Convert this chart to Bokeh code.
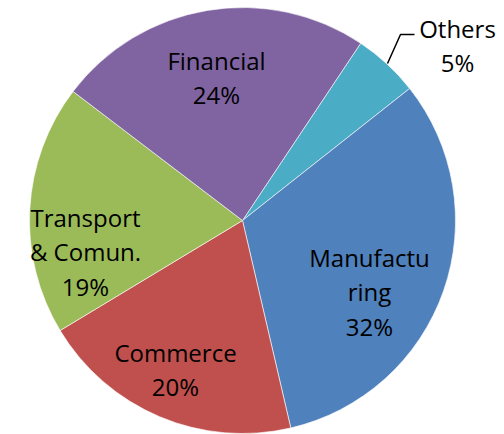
import math
from bokeh.plotting import figure
from bokeh.models import ColumnDataSource, Range1d
from bokeh.embed import file_html
from bokeh.resources import INLINE
from bokeh.core.properties import value

# ---- data ----
categories = ["Others", "Manufacturing", "Commerce", "Transport & Comun.", "Financial"]
shares = [5, 32, 20, 19, 24]
colors = ["#4BACC6", "#4F81BD", "#C0504D", "#9BBB59", "#8064A2"]
name_lines = [["Others"], ["Manufactu", "ring"], ["Commerce"], ["Transport", "& Comun."], ["Financial"]]

# ---- layout (page pixel coordinates) ----
W, H, OFF = 504, 434, 0
CX, CY, R = 242, 220, 213
START_DEG = 56.3  # math angle where first slice starts (clockwise drawing)
label_centers = [(457, 45), (369, 291), (175, 369), (85, 251), (216, 77)]
LINE_SP = 34.5
FONT = "Open Sans"
FONT_SIZE = "24px"

total = sum(shares)
starts, ends = [], []
cum = 0.0
for s in shares:
    a0 = math.radians(START_DEG - cum / total * 360.0)
    cum += s
    a1 = math.radians(START_DEG - cum / total * 360.0)
    starts.append(a0)
    ends.append(a1)

src = ColumnDataSource(dict(cat=categories, share=shares, color=colors,
                            start=starts, end=ends,
                            x=[CX] * len(shares), y=[-CY] * len(shares)))

p = figure(width=W, height=H, output_backend="svg", toolbar_location=None,
           x_range=Range1d(OFF, OFF + W), y_range=Range1d(-(OFF + H), -OFF),
           min_border=0, background_fill_color="white", border_fill_color="white")
p.axis.visible = False
p.grid.visible = False
p.outline_line_color = None

p.wedge(x="x", y="y", radius=R, start_angle="start", end_angle="end",
        direction="clock", fill_color="color", line_color="white",
        line_alpha=0.6, line_width=1, source=src)

# labels
tx, ty, tt = [], [], []
for (lx, ly), names, s in zip(label_centers, name_lines, shares):
    lines = names + [f"{s}%"]
    n = len(lines)
    for i, t in enumerate(lines):
        tx.append(lx)
        ty.append(-(ly + (i - (n - 1) / 2) * LINE_SP))
        tt.append(t)
p.text(x=tx, y=ty, text=tt, text_align="center", text_baseline="middle",
       text_font=value(FONT), text_font_size=FONT_SIZE, text_color="black")

# leader line for "Others"
p.line(x=[387, 400, 414], y=[-63, -34, -34], line_color="black", line_width=1.5)

open("out.html", "w").write(file_html(p, INLINE))
